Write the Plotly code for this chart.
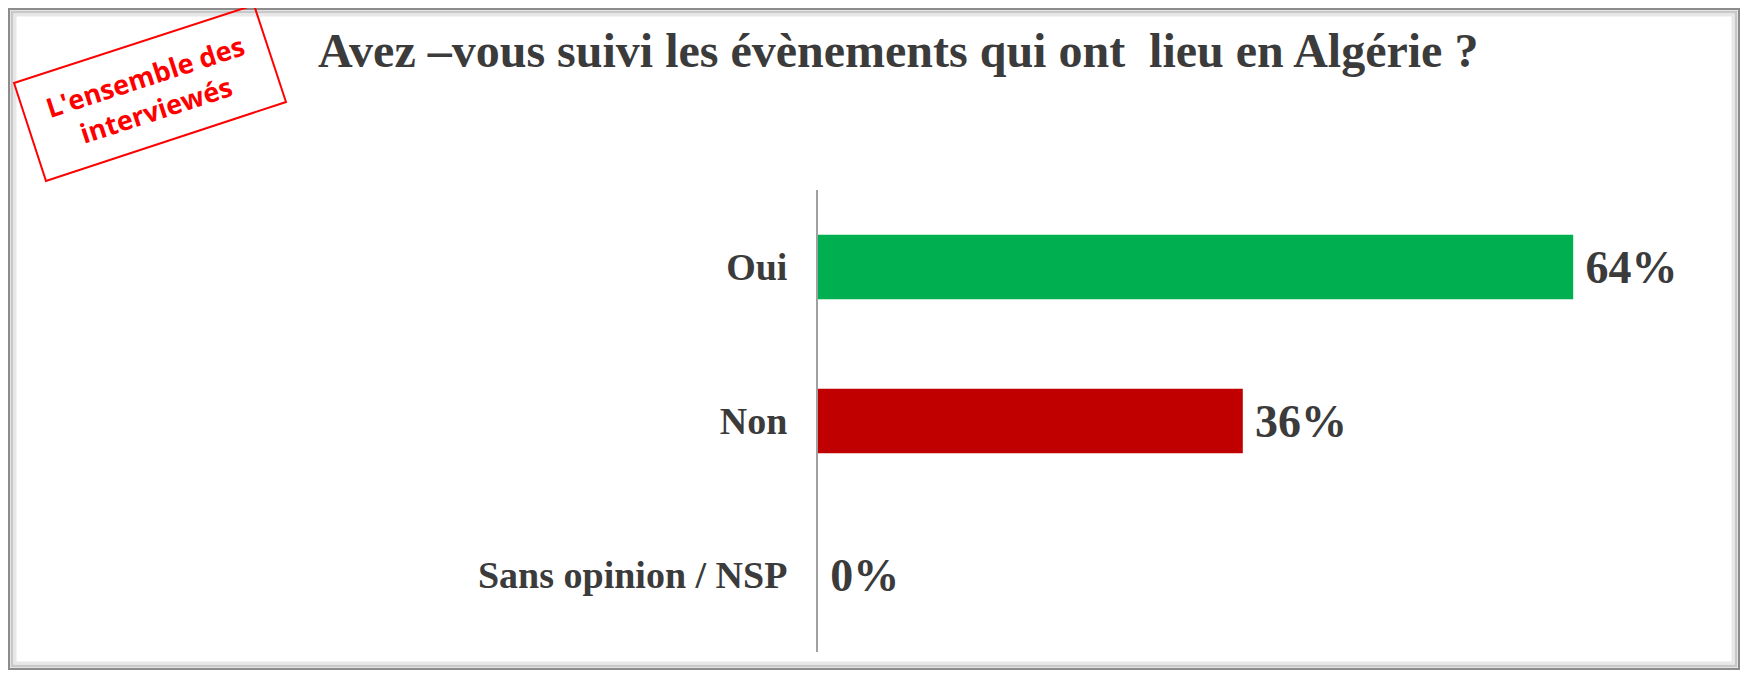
import plotly.graph_objects as go

# data
categories = ["Oui", "Non", "Sans opinion / NSP"]
values = [64, 36, 0]
bar_colors = ["#00b050", "#c00000", "#c00000"]
value_labels = ["64%", "36%", "0%"]

title_text = "Avez –vous suivi les évènements qui ont  lieu en Algérie ?"
stamp_text = "L'ensemble des<br>interviewés"

# the page adds an 8px body margin, so the figure is drawn 8px smaller
# and every reference pixel position is shifted by OFF
OFF = 8
W, H = 1748 - OFF, 678 - OFF
L, R, T, B = 818 - OFF, 45, 190 - OFF, 26
TXT = "#3b3b3b"
SERIF = "Liberation Serif, Times New Roman, serif"


def px(x):
    return (x - OFF - L) / (W - L - R)


def py(y):
    return (H - B - (y - OFF)) / (H - T - B)


fig = go.Figure()
fig.add_trace(go.Bar(
    x=values, y=categories, orientation="h",
    marker=dict(color=bar_colors, line=dict(width=0)),
    width=0.42,
    text=value_labels, texttemplate="\u2009%{text}", textposition="outside",
    textfont=dict(family=SERIF, size=46, color=TXT, weight="bold"),
    cliponaxis=False,
))

# outer frame with a soft shadow
frame = [(9, 9, 1739, 669, "#8c8c8c", 2), (12, 12, 1736, 666, "#c8c8c8", 3),
         (15, 15, 1733, 663, "#e8e8e8", 3)]
shapes = []
for x0, y0, x1, y1, c, w in frame:
    shapes.append(dict(type="rect", xref="paper", yref="paper",
                       x0=px(x0), x1=px(x1), y0=py(y0), y1=py(y1),
                       line=dict(color=c, width=w), layer="below"))

# red rotated stamp box
corners = [(14, 83), (254, 5), (286, 102), (46, 181)]
path = "M " + " L ".join(f"{px(a)},{py(b)}" for a, b in corners) + " Z"
shapes.append(dict(type="path", xref="paper", yref="paper", path=path,
                   line=dict(color="#ff0000", width=2)))

fig.update_layout(
    width=W, height=H,
    margin=dict(l=L, r=R, t=T, b=B),
    paper_bgcolor="white", plot_bgcolor="white",
    showlegend=False,
    shapes=shapes,
    title=dict(text=title_text, xref="container", yref="container",
               x=(318 - OFF) / W, xanchor="left",
               y=1 - (50 - OFF) / H, yanchor="middle",
               font=dict(family=SERIF, size=48, color=TXT, weight="bold")),
    xaxis=dict(range=[0, 75], visible=False),
    yaxis=dict(autorange="reversed", showline=True, linecolor="#a0a0a0",
               linewidth=2, ticks="", ticklabelstandoff=21,
               tickfont=dict(family=SERIF, size=38, color=TXT, weight="bold"),
               showgrid=False, zeroline=False),
    annotations=[dict(text=stamp_text, xref="paper", yref="paper",
                      x=px(150), y=py(93), xanchor="center", yanchor="middle",
                      showarrow=False, textangle=-18,
                      font=dict(family="Open Sans, sans-serif", size=27,
                                color="#ff0000", weight="bold"))],
)

fig.write_html("out.html")
